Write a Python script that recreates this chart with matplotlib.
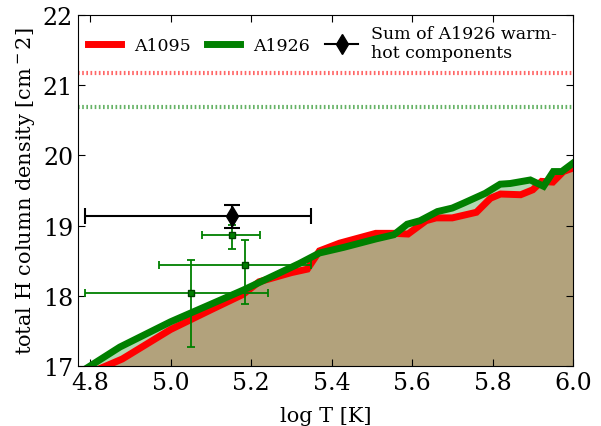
import matplotlib
matplotlib.use("Agg")
import matplotlib.pyplot as plt
from matplotlib.lines import Line2D

plt.rcParams["font.family"] = "DejaVu Serif"
plt.rcParams["mathtext.fontset"] = "dejavuserif"

# A1095 column density curve (log T, log N_H)
logt_a1095 = [4.75, 4.88, 5.00, 5.10, 5.18, 5.22, 5.30, 5.34, 5.37, 5.42, 5.51, 5.555,
              5.59, 5.635, 5.66, 5.70, 5.76, 5.795, 5.82, 5.87, 5.90, 5.922, 5.95, 5.976, 6.0]
nh_a1095 = [16.78, 17.10, 17.52, 17.80, 18.02, 18.20, 18.33, 18.38, 18.64, 18.75, 18.89, 18.89,
            18.88, 19.07, 19.11, 19.11, 19.19, 19.39, 19.45, 19.44, 19.51, 19.63, 19.62, 19.77, 19.82]

# A1926 column density curve
logt_a1926 = [4.75, 4.80, 4.874, 5.00, 5.18, 5.32, 5.37, 5.43, 5.51, 5.555, 5.588, 5.62,
              5.663, 5.70, 5.728, 5.782, 5.819, 5.844, 5.894, 5.927, 5.951, 5.972, 6.0]
nh_a1926 = [16.82, 17.0, 17.27, 17.63, 18.08, 18.46, 18.61, 18.69, 18.81, 18.87, 19.02, 19.07,
            19.20, 19.25, 19.32, 19.46, 19.59, 19.60, 19.65, 19.56, 19.77, 19.77, 19.89]

# upper limits (dotted lines)
limit_a1095 = 21.17
limit_a1926 = 20.69

# A1926 warm-hot components
comp_logt = [5.052, 5.186, 5.153]
comp_logt_lo = [0.264, 0.214, 0.076]
comp_logt_hi = [0.190, 0.163, 0.068]
comp_nh = [18.04, 18.44, 18.86]
comp_nh_lo = [0.77, 0.55, 0.20]
comp_nh_hi = [0.47, 0.36, 0.15]

# sum of the components
sum_logt = 5.153
sum_logt_lo = 0.365
sum_logt_hi = 0.196
sum_nh = 19.14
sum_nh_lo = 0.17
sum_nh_hi = 0.15

fig = plt.figure(figsize=(6.01, 4.27), dpi=100)
ax = fig.add_axes([0.1298, 0.1405, 0.8236, 0.822])

ax.fill_between(logt_a1095, 16, nh_a1095, color="red", alpha=0.3, lw=0)
ax.fill_between(logt_a1926, 16, nh_a1926, color="green", alpha=0.3, lw=0)
ax.plot(logt_a1095, nh_a1095, color="red", lw=5, solid_joinstyle="miter")
ax.plot(logt_a1926, nh_a1926, color="green", lw=5, solid_joinstyle="miter")

ax.axhline(limit_a1095, color="red", lw=3, alpha=0.6, linestyle=(0, (0.4, 0.6)))
ax.axhline(limit_a1926, color="green", lw=3, alpha=0.6, linestyle=(0, (0.4, 0.6)))

ax.errorbar(comp_logt, comp_nh, xerr=[comp_logt_lo, comp_logt_hi],
            yerr=[comp_nh_lo, comp_nh_hi], fmt="s", color="green", ms=5,
            mec="#004000", mfc="green", elinewidth=1.3, capsize=3, capthick=1.3)
ax.errorbar([sum_logt], [sum_nh], xerr=[[sum_logt_lo], [sum_logt_hi]],
            yerr=[[sum_nh_lo], [sum_nh_hi]], fmt="d", color="black", ms=10,
            elinewidth=1.5, capsize=6, capthick=1.5)

ax.set_xlim(4.77, 6.0)
ax.set_ylim(17, 22)
ax.set_xticks([4.8, 5.0, 5.2, 5.4, 5.6, 5.8, 6.0])
ax.set_yticks([17, 18, 19, 20, 21, 22])
ax.tick_params(direction="in", top=True, right=True, length=5, labelsize=17)
ax.set_xlabel("log T [K]", fontsize=15)
ax.xaxis.set_label_coords(0.5, -0.115)
ax.set_ylabel(r"total H column density [cm$^-2$]", fontsize=15)

handles = [
    Line2D([], [], color="red", lw=5),
    Line2D([], [], color="green", lw=5),
    Line2D([], [], color="black", marker="d", ms=10, lw=1.5),
]
labels = ["A1095", "A1926", "Sum of A1926 warm-\nhot components"]
leg = ax.legend(handles, labels, loc="upper left", ncol=3, frameon=False, fontsize=12.5,
                handlelength=1.9, columnspacing=0.9, handletextpad=0.75,
                borderaxespad=0.2, bbox_to_anchor=(0.0, 1.0))
plt.setp(leg.get_texts(), linespacing=1.1)

fig.savefig("out.png", dpi=100)
